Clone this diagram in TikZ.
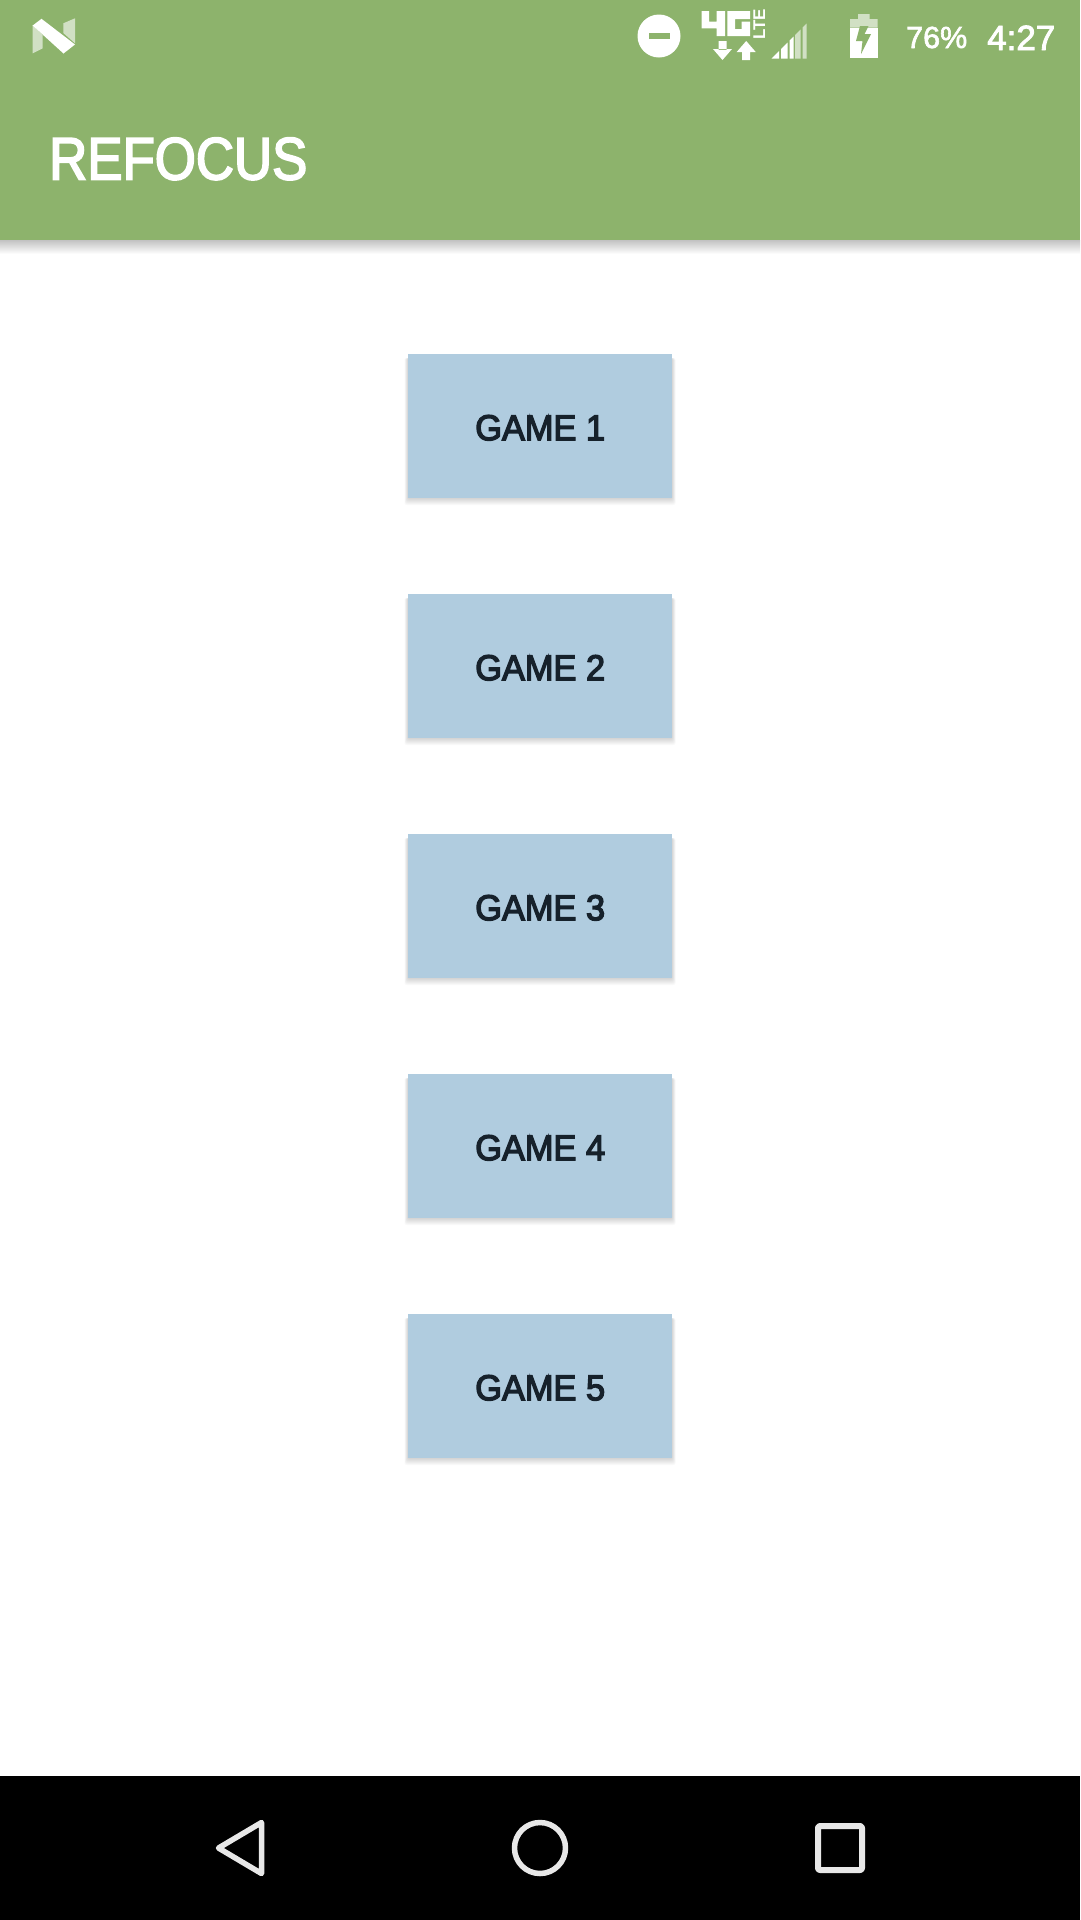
\documentclass[tikz,border=0pt]{standalone}
\usepackage{fontspec}
\setmainfont{Liberation Sans}
\font\titlef="Liberation Sans:embolden=2.8,extend=0.88" at 60pt
\font\btnf="Liberation Sans:embolden=3.6,extend=0.955" at 36pt
\font\battf="Liberation Sans:embolden=2" at 30.5pt
\font\clockf="Liberation Sans:embolden=2.4" at 35pt
\font\ltef="Liberation Sans/B:extend=1.0" at 17pt
\definecolor{bargreen}{HTML}{8DB36C}
\definecolor{btnblue}{HTML}{B0CCDF}
\definecolor{btntext}{HTML}{16212B}
\definecolor{navicon}{HTML}{E8E8E8}
\tikzset{
  gamebtn/.style={fill=btnblue,draw=none,inner sep=0pt,minimum width=264pt,minimum height=144pt,
    text=btntext,font=\btnf,text height=28pt,text depth=0pt,anchor=north west},
  lighticon/.style={fill=white,fill opacity=0.6,draw=none},
  whiteicon/.style={fill=white,draw=none},
  navstroke/.style={draw=navicon,line width=5.5pt,line join=round},
  stattext/.style={text=white,inner sep=0pt,anchor=base west}
}
\newcommand{\softshadow}[4]{% x1,y1,x2,y2
  \foreach \d in {1,2,...,7}{
    \fill[black,opacity=0.022,rounded corners=2pt] (#1-\d*0.5,#2+2) rectangle (#3+\d*0.5,#4+\d*1.0);
  }
}
\begin{document}
\begin{tikzpicture}[x=1pt,y=-1pt]
\useasboundingbox (0,0) rectangle (1080,1920);
\fill[white] (0,0) rectangle (1080,1920);
% app bar shadow
\fill[top color=black!24,bottom color=white,draw=none] (0,240) rectangle (1080,254);
\fill[bargreen] (0,0) rectangle (1080,240);
% title
\node[stattext,font=\titlef] (title) at (49,179.5) {REFOCUS};
% N logo
\fill[lighticon] (32.7,25) -- (42.7,35) -- (42.7,48.3) -- (32.7,53.3) -- cycle;
\fill[lighticon] (63.3,23.3) -- (75,18.3) -- (75,43.3) -- (63.3,33) -- cycle;
\fill[whiteicon] (32.7,25.5) -- (41.5,18.8) -- (75,44.5) -- (63.5,53.5) -- cycle;
% status: do-not-disturb
\fill[whiteicon] (659,36) circle (21.5);
\fill[bargreen] (649,33) rectangle (670,39);
% 4G
\fill[whiteicon] (701.7,11) -- (709,11) -- (709,21.7) -- (716.7,21.7) -- (716.7,11) -- (725,11)
  -- (725,36) -- (716.7,36) -- (716.7,28.3) -- (701.7,28.3) -- cycle;
\fill[whiteicon] (727.3,11) -- (750,11) -- (750,19) -- (735,19) -- (735,29) -- (741.7,29)
  -- (741.7,21.7) -- (750,21.7) -- (750,36) -- (727.3,36) -- cycle;
% LTE
\node[text=white,inner sep=0pt,rotate=90,font=\ltef] (lte) at (759.2,24.5) {LTE};
% data arrows
\fill[whiteicon] (718.5,41) rectangle (726.5,50) (713,49) -- (732,49) -- (722.5,60) -- cycle;
\fill[whiteicon] (742,51) rectangle (750,60) (736.7,52) -- (755.7,52) -- (746.2,41) -- cycle;
% signal
\fill[whiteicon] (771.5,58.5) -- (779,51) -- (779,58.5) -- cycle;
\fill[whiteicon] (781,49) -- (787.5,42.5) -- (787.5,58.5) -- (781,58.5) -- cycle;
\fill[whiteicon] (789.5,40.5) -- (793.5,36.5) -- (793.5,58.5) -- (789.5,58.5) -- cycle;
\fill[lighticon] (795,35) -- (800.5,29.5) -- (800.5,58.5) -- (795,58.5) -- cycle;
\fill[lighticon] (802.5,27.5) -- (806.5,23.5) -- (806.5,58.5) -- (802.5,58.5) -- cycle;
% battery
\fill[lighticon] (858,14) rectangle (869.5,19) (850,19) rectangle (877.5,27.5);
\fill[whiteicon] (850,27.5) rectangle (877.5,57.5);
\fill[bargreen] (860,26) -- (856,41) -- (862.5,41) -- (861,54) -- (871,34) -- (864.5,34) -- (868.5,26) -- cycle;
% status text
\node[stattext,font=\battf] (batt) at (906,48) {76\%};
\node[stattext,font=\clockf] (clock) at (987,50) {4:27};
% game buttons
\foreach \top/\lab in {354/1,594/2,834/3,1074/4,1314/5}{
  \softshadow{408}{\top+2}{672}{\top+144}
  \node[gamebtn] (game\lab) at (408,\top) {GAME \lab};
}
% nav bar
\fill[black] (0,1776) rectangle (1080,1920);
\draw[navstroke] (218.5,1848) -- (261.5,1822.5) -- (261.5,1873.5) -- cycle;
\draw[navstroke] (540,1848) circle (25.5);
\draw[navstroke,line width=6pt,rounded corners=2pt] (818,1826) rectangle (862,1870);
\end{tikzpicture}
\end{document}
